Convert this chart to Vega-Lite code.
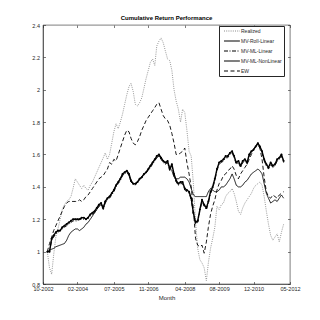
{
"$schema": "https://vega.github.io/schema/vega-lite/v6.json",
"autosize": "none",
"width": 247,
"height": 259,
"padding": {"left": 43, "top": 25, "right": 30, "bottom": 36},
"background": "white",
"title": {"text": "Cumulative Return Performance", "fontSize": 6, "font": "Liberation Sans", "fontWeight": "bold", "color": "#000000", "offset": 2},
"config": {"view": {"stroke": "#262626", "strokeWidth": 0.6}, "font": "Liberation Sans"},
"data": {"format": {"parse": {"d": "utc:'%Y-%m'"}}, "values": [
{"d":"2002-12","R":1.00,"O":1.00,"L":1.00,"N":1.00,"E":1.00},
{"d":"2003-01","R":0.90,"O":1.01,"L":1.00,"N":1.00,"E":1.05},
{"d":"2003-02","R":0.86,"O":1.015,"L":1.07,"N":1.08,"E":1.09},
{"d":"2003-03","R":0.98,"O":1.02,"L":1.09,"N":1.10,"E":1.13},
{"d":"2003-04","R":1.09,"O":1.03,"L":1.11,"N":1.12,"E":1.16},
{"d":"2003-05","R":1.14,"O":1.035,"L":1.12,"N":1.13,"E":1.19},
{"d":"2003-06","R":1.20,"O":1.04,"L":1.13,"N":1.13,"E":1.22},
{"d":"2003-07","R":1.26,"O":1.045,"L":1.14,"N":1.15,"E":1.25},
{"d":"2003-08","R":1.29,"O":1.05,"L":1.15,"N":1.16,"E":1.28},
{"d":"2003-09","R":1.31,"O":1.07,"L":1.16,"N":1.17,"E":1.30},
{"d":"2003-10","R":1.32,"O":1.10,"L":1.17,"N":1.18,"E":1.31},
{"d":"2003-11","R":1.34,"O":1.12,"L":1.18,"N":1.19,"E":1.31},
{"d":"2003-12","R":1.39,"O":1.13,"L":1.19,"N":1.20,"E":1.31},
{"d":"2004-01","R":1.45,"O":1.14,"L":1.19,"N":1.20,"E":1.31},
{"d":"2004-02","R":1.43,"O":1.14,"L":1.19,"N":1.20,"E":1.31},
{"d":"2004-03","R":1.41,"O":1.13,"L":1.20,"N":1.20,"E":1.32},
{"d":"2004-04","R":1.39,"O":1.14,"L":1.20,"N":1.21,"E":1.31},
{"d":"2004-05","R":1.41,"O":1.15,"L":1.20,"N":1.21,"E":1.32},
{"d":"2004-06","R":1.39,"O":1.17,"L":1.20,"N":1.20,"E":1.34},
{"d":"2004-07","R":1.38,"O":1.18,"L":1.21,"N":1.21,"E":1.35},
{"d":"2004-08","R":1.41,"O":1.20,"L":1.22,"N":1.23,"E":1.37},
{"d":"2004-09","R":1.43,"O":1.22,"L":1.23,"N":1.24,"E":1.39},
{"d":"2004-10","R":1.46,"O":1.24,"L":1.24,"N":1.25,"E":1.41},
{"d":"2004-11","R":1.49,"O":1.26,"L":1.26,"N":1.27,"E":1.43},
{"d":"2004-12","R":1.52,"O":1.28,"L":1.28,"N":1.29,"E":1.45},
{"d":"2005-01","R":1.55,"O":1.29,"L":1.29,"N":1.30,"E":1.46},
{"d":"2005-02","R":1.58,"O":1.27,"L":1.26,"N":1.27,"E":1.47},
{"d":"2005-03","R":1.61,"O":1.31,"L":1.30,"N":1.31,"E":1.49},
{"d":"2005-04","R":1.57,"O":1.33,"L":1.32,"N":1.33,"E":1.51},
{"d":"2005-05","R":1.60,"O":1.34,"L":1.33,"N":1.34,"E":1.55},
{"d":"2005-06","R":1.67,"O":1.36,"L":1.35,"N":1.36,"E":1.54},
{"d":"2005-07","R":1.74,"O":1.38,"L":1.37,"N":1.38,"E":1.57},
{"d":"2005-08","R":1.79,"O":1.41,"L":1.40,"N":1.41,"E":1.56},
{"d":"2005-09","R":1.76,"O":1.43,"L":1.42,"N":1.43,"E":1.60},
{"d":"2005-10","R":1.80,"O":1.45,"L":1.44,"N":1.45,"E":1.64},
{"d":"2005-11","R":1.85,"O":1.47,"L":1.47,"N":1.48,"E":1.68},
{"d":"2005-12","R":1.91,"O":1.49,"L":1.48,"N":1.49,"E":1.72},
{"d":"2006-01","R":1.97,"O":1.50,"L":1.49,"N":1.50,"E":1.75},
{"d":"2006-02","R":2.02,"O":1.47,"L":1.47,"N":1.48,"E":1.74},
{"d":"2006-03","R":2.04,"O":1.43,"L":1.43,"N":1.44,"E":1.70},
{"d":"2006-04","R":1.99,"O":1.42,"L":1.42,"N":1.42,"E":1.67},
{"d":"2006-05","R":1.91,"O":1.42,"L":1.41,"N":1.42,"E":1.66},
{"d":"2006-06","R":1.90,"O":1.43,"L":1.43,"N":1.43,"E":1.68},
{"d":"2006-07","R":1.92,"O":1.45,"L":1.44,"N":1.45,"E":1.71},
{"d":"2006-08","R":1.95,"O":1.46,"L":1.46,"N":1.46,"E":1.75},
{"d":"2006-09","R":2.01,"O":1.48,"L":1.47,"N":1.48,"E":1.78},
{"d":"2006-10","R":2.07,"O":1.49,"L":1.49,"N":1.49,"E":1.81},
{"d":"2006-11","R":2.12,"O":1.51,"L":1.50,"N":1.51,"E":1.83},
{"d":"2006-12","R":2.17,"O":1.53,"L":1.52,"N":1.53,"E":1.85},
{"d":"2007-01","R":2.19,"O":1.55,"L":1.54,"N":1.55,"E":1.87},
{"d":"2007-02","R":2.15,"O":1.57,"L":1.56,"N":1.57,"E":1.89},
{"d":"2007-03","R":2.27,"O":1.58,"L":1.58,"N":1.59,"E":1.91},
{"d":"2007-04","R":2.30,"O":1.59,"L":1.59,"N":1.60,"E":1.92},
{"d":"2007-05","R":2.32,"O":1.58,"L":1.57,"N":1.58,"E":1.88},
{"d":"2007-06","R":2.29,"O":1.56,"L":1.55,"N":1.56,"E":1.84},
{"d":"2007-07","R":2.24,"O":1.55,"L":1.54,"N":1.55,"E":1.82},
{"d":"2007-08","R":2.19,"O":1.55,"L":1.55,"N":1.56,"E":1.81},
{"d":"2007-09","R":2.18,"O":1.52,"L":1.50,"N":1.51,"E":1.78},
{"d":"2007-10","R":2.12,"O":1.50,"L":1.53,"N":1.54,"E":1.73},
{"d":"2007-11","R":2.00,"O":1.46,"L":1.47,"N":1.48,"E":1.67},
{"d":"2007-12","R":1.93,"O":1.45,"L":1.43,"N":1.44,"E":1.60},
{"d":"2008-01","R":1.88,"O":1.45,"L":1.41,"N":1.42,"E":1.60},
{"d":"2008-02","R":1.80,"O":1.46,"L":1.42,"N":1.43,"E":1.61},
{"d":"2008-03","R":1.88,"O":1.46,"L":1.42,"N":1.43,"E":1.62},
{"d":"2008-04","R":1.86,"O":1.46,"L":1.38,"N":1.39,"E":1.64},
{"d":"2008-05","R":1.75,"O":1.45,"L":1.37,"N":1.38,"E":1.55},
{"d":"2008-06","R":1.62,"O":1.43,"L":1.36,"N":1.37,"E":1.48},
{"d":"2008-07","R":1.59,"O":1.39,"L":1.32,"N":1.33,"E":1.40},
{"d":"2008-08","R":1.42,"O":1.35,"L":1.23,"N":1.24,"E":1.26},
{"d":"2008-09","R":1.18,"O":1.34,"L":1.17,"N":1.18,"E":1.08},
{"d":"2008-10","R":1.02,"O":1.34,"L":1.18,"N":1.19,"E":1.04},
{"d":"2008-11","R":0.95,"O":1.34,"L":1.25,"N":1.26,"E":1.03},
{"d":"2008-12","R":0.93,"O":1.34,"L":1.31,"N":1.32,"E":1.04},
{"d":"2009-01","R":0.90,"O":1.34,"L":1.28,"N":1.29,"E":0.99},
{"d":"2009-02","R":0.82,"O":1.34,"L":1.26,"N":1.27,"E":1.06},
{"d":"2009-03","R":0.93,"O":1.37,"L":1.30,"N":1.31,"E":1.15},
{"d":"2009-04","R":1.02,"O":1.39,"L":1.36,"N":1.37,"E":1.23},
{"d":"2009-05","R":1.08,"O":1.38,"L":1.39,"N":1.40,"E":1.28},
{"d":"2009-06","R":1.15,"O":1.37,"L":1.44,"N":1.45,"E":1.32},
{"d":"2009-07","R":1.28,"O":1.37,"L":1.50,"N":1.51,"E":1.38},
{"d":"2009-08","R":1.26,"O":1.38,"L":1.54,"N":1.55,"E":1.42},
{"d":"2009-09","R":1.29,"O":1.40,"L":1.55,"N":1.56,"E":1.44},
{"d":"2009-10","R":1.30,"O":1.40,"L":1.56,"N":1.57,"E":1.47},
{"d":"2009-11","R":1.34,"O":1.41,"L":1.58,"N":1.59,"E":1.48},
{"d":"2009-12","R":1.36,"O":1.43,"L":1.58,"N":1.59,"E":1.50},
{"d":"2010-01","R":1.37,"O":1.45,"L":1.60,"N":1.61,"E":1.51},
{"d":"2010-02","R":1.39,"O":1.48,"L":1.61,"N":1.62,"E":1.53},
{"d":"2010-03","R":1.36,"O":1.45,"L":1.58,"N":1.59,"E":1.51},
{"d":"2010-04","R":1.31,"O":1.41,"L":1.54,"N":1.55,"E":1.47},
{"d":"2010-05","R":1.25,"O":1.40,"L":1.55,"N":1.56,"E":1.45},
{"d":"2010-06","R":1.23,"O":1.40,"L":1.52,"N":1.53,"E":1.48},
{"d":"2010-07","R":1.27,"O":1.41,"L":1.55,"N":1.56,"E":1.50},
{"d":"2010-08","R":1.30,"O":1.43,"L":1.56,"N":1.57,"E":1.52},
{"d":"2010-09","R":1.32,"O":1.44,"L":1.54,"N":1.55,"E":1.54},
{"d":"2010-10","R":1.34,"O":1.46,"L":1.59,"N":1.60,"E":1.57},
{"d":"2010-11","R":1.36,"O":1.48,"L":1.61,"N":1.62,"E":1.60},
{"d":"2010-12","R":1.39,"O":1.49,"L":1.63,"N":1.63,"E":1.63},
{"d":"2011-01","R":1.41,"O":1.50,"L":1.65,"N":1.65,"E":1.65},
{"d":"2011-02","R":1.42,"O":1.51,"L":1.66,"N":1.67,"E":1.67},
{"d":"2011-03","R":1.43,"O":1.50,"L":1.64,"N":1.65,"E":1.64},
{"d":"2011-04","R":1.41,"O":1.48,"L":1.61,"N":1.62,"E":1.57},
{"d":"2011-05","R":1.34,"O":1.42,"L":1.56,"N":1.57,"E":1.46},
{"d":"2011-06","R":1.25,"O":1.36,"L":1.53,"N":1.54,"E":1.37},
{"d":"2011-07","R":1.17,"O":1.33,"L":1.51,"N":1.52,"E":1.34},
{"d":"2011-08","R":1.10,"O":1.30,"L":1.54,"N":1.55,"E":1.33},
{"d":"2011-09","R":1.07,"O":1.31,"L":1.52,"N":1.53,"E":1.35},
{"d":"2011-10","R":1.09,"O":1.32,"L":1.53,"N":1.54,"E":1.34},
{"d":"2011-11","R":1.11,"O":1.31,"L":1.56,"N":1.57,"E":1.33},
{"d":"2011-12","R":1.06,"O":1.33,"L":1.57,"N":1.58,"E":1.35},
{"d":"2012-01","R":1.12,"O":1.35,"L":1.59,"N":1.60,"E":1.36},
{"d":"2012-02","R":1.17,"O":1.33,"L":1.55,"N":1.56,"E":1.37}
]},
"transform": [{"fold": ["R", "O", "L", "N", "E"], "as": ["s", "v"]}],
"resolve": {"axis": {"x": "independent", "y": "independent"}},
"layer": [
  {"mark": {"type": "line", "strokeJoin": "round"},
   "encoding": {
     "x": {"field": "d", "type": "temporal",
       "scale": {"type": "utc", "domain": [{"year": 2002, "month": 10, "date": 1, "utc": true}, {"year": 2012, "month": 5, "date": 1, "utc": true}]},
       "axis": {"title": "Month", "titleFontSize": 6, "titleFontWeight": "normal", "titleColor": "#262626", "titlePadding": 2,
         "labelFontSize": 5.5, "labelColor": "#262626", "labelFlush": false, "labelOverlap": false, "labelPadding": 5,
         "labelExpr": "utcFormat(datum.value, '%m-%Y')", "grid": false,
         "domainColor": "#262626", "domainWidth": 0.6, "tickColor": "#262626", "tickWidth": 0.6, "tickSize": -2.5,
         "values": [{"year": 2002, "month": 10, "date": 1, "utc": true}, {"year": 2004, "month": 2, "date": 1, "utc": true}, {"year": 2005, "month": 7, "date": 1, "utc": true}, {"year": 2006, "month": 11, "date": 1, "utc": true}, {"year": 2008, "month": 4, "date": 1, "utc": true}, {"year": 2009, "month": 8, "date": 1, "utc": true}, {"year": 2010, "month": 12, "date": 1, "utc": true}, {"year": 2012, "month": 5, "date": 1, "utc": true}]}},
     "y": {"field": "v", "type": "quantitative",
       "scale": {"domain": [0.8, 2.4], "zero": false, "nice": false},
       "axis": {"title": null, "labelFontSize": 5.5, "labelColor": "#262626", "labelFlush": false, "labelOverlap": false, "labelPadding": 6,
         "format": "~g", "grid": false, "values": [0.8, 1, 1.2, 1.4, 1.6, 1.8, 2, 2.2, 2.4],
         "domainColor": "#262626", "domainWidth": 0.6, "tickColor": "#262626", "tickWidth": 0.6, "tickSize": -2.5}},
     "color": {"field": "s", "type": "nominal",
       "scale": {"domain": ["R", "O", "L", "N", "E"], "range": ["#8a8a8a", "#000000", "#000000", "#000000", "#000000"]},
       "legend": {"orient": "none", "legendX": 176, "legendY": 1, "title": null, "symbolType": "M0,0H6", "symbolSize": 28,
         "labelFontSize": 5, "labelColor": "#262626", "labelOffset": 13.5, "rowPadding": 3, "padding": 1.5,
         "strokeColor": "#262626", "fillColor": "white", "symbolStrokeWidth": 1,
         "labelExpr": "{'R':'Realized','O':'MV-Roll-Linear','L':'MV-ML-Linear','N':'MV-ML-NonLinear','E':'EW'}[datum.label]"}},
     "strokeDash": {"field": "s", "type": "nominal",
       "scale": {"domain": ["R", "O", "L", "N", "E"], "range": [[1, 1.2], [1, 0], [4, 1.5, 1, 1.5], [1, 0], [4, 2.5]]}},
     "strokeWidth": {"condition": {"test": "datum.s == 'N'", "value": 1.4}, "value": 0.9}
   }},
  {"transform": [{"filter": "datum.s == 'N'"}],
   "mark": {"type": "point", "filled": true, "size": 4, "color": "#000000", "opacity": 1},
   "encoding": {
     "x": {"field": "d", "type": "temporal",
       "axis": {"orient": "top", "title": null, "labels": false, "domain": false, "grid": false, "tickColor": "#262626", "tickWidth": 0.6, "tickSize": -2.5,
         "values": [{"year": 2002, "month": 10, "date": 1, "utc": true}, {"year": 2004, "month": 2, "date": 1, "utc": true}, {"year": 2005, "month": 7, "date": 1, "utc": true}, {"year": 2006, "month": 11, "date": 1, "utc": true}, {"year": 2008, "month": 4, "date": 1, "utc": true}, {"year": 2009, "month": 8, "date": 1, "utc": true}, {"year": 2010, "month": 12, "date": 1, "utc": true}, {"year": 2012, "month": 5, "date": 1, "utc": true}]}},
     "y": {"field": "v", "type": "quantitative",
       "axis": {"orient": "right", "title": null, "labels": false, "domain": false, "grid": false, "tickColor": "#262626", "tickWidth": 0.6, "tickSize": -2.5,
         "values": [0.8, 1, 1.2, 1.4, 1.6, 1.8, 2, 2.2, 2.4]}}
   }}
]
}
